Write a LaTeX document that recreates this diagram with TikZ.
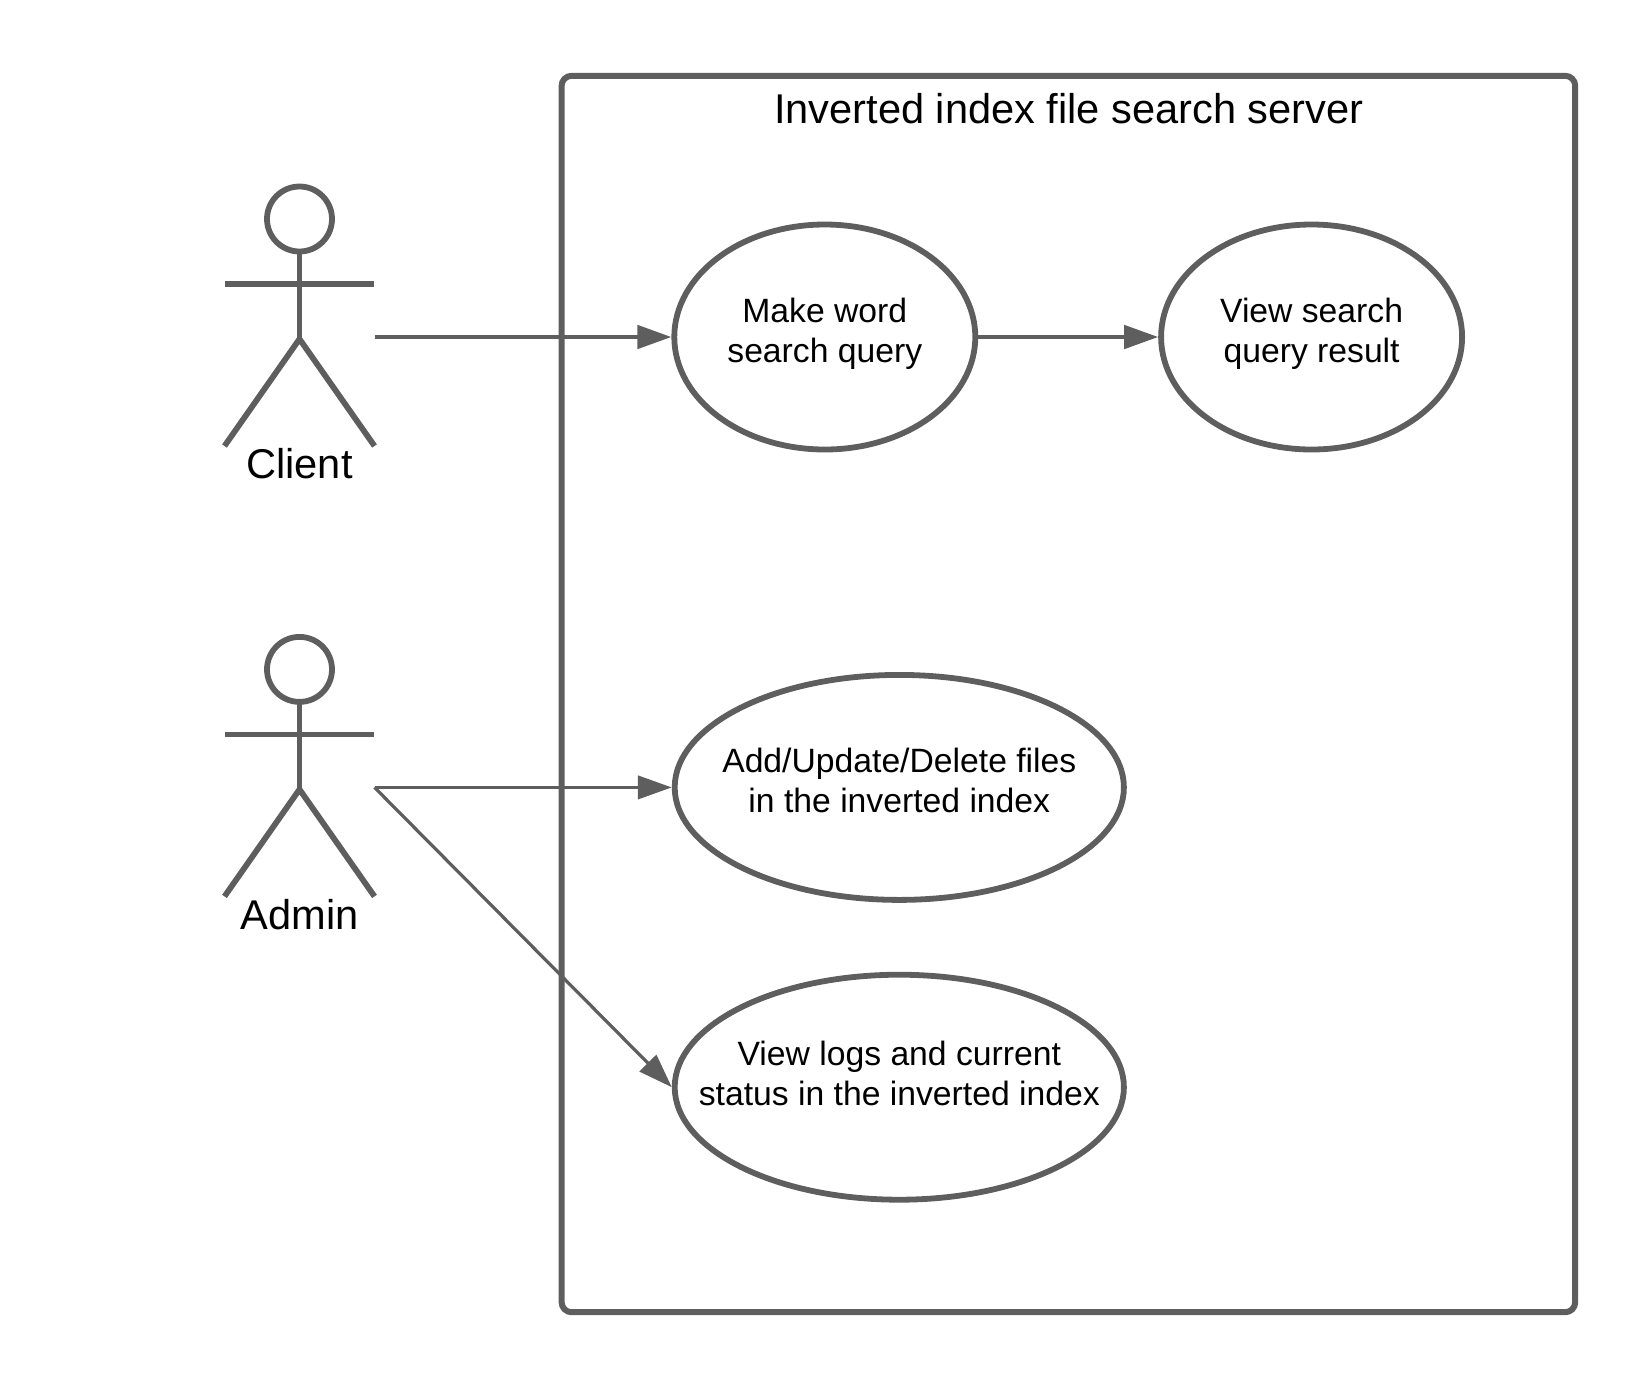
\documentclass[tikz,border=0pt]{standalone}
\usepackage{fontspec}
\setmainfont{Liberation Sans}
\usetikzlibrary{arrows.meta}
\usetikzlibrary{shapes.geometric}
\definecolor{linegray}{HTML}{5E5E5E}

\tikzset{
	usecase/.style={ellipse,draw=linegray,line width=2.9pt,align=center,
		font=\fontsize{16.85}{20}\selectfont,inner sep=-25pt,minimum height=112.5pt,
		execute at end node={\rule[-6.8pt]{0pt}{0pt}}},
	flow/.style={draw=linegray,line width=2.1pt,-{Triangle[length=17pt,width=11.6pt]}},
	actor/.pic={
		\draw[linegray,line width=2.9pt] (0,0) circle (16.25);
		\draw[linegray,line width=2.9pt] (0,-16.25) -- (0,-60) (-37.2,-32.5) -- (37.2,-32.5);
		\draw[linegray,line width=2.9pt] (-37.5,-113.5) -- (0,-60) -- (37.5,-113.5);
		\coordinate (-hand) at (37.5,-59);
		\node[font=\fontsize{20.8}{25}\selectfont] (-name) at (0,-122.5) {\tikzpictext};
	},
}

\begin{document}
\begin{tikzpicture}[x=1pt,y=1pt]
	\useasboundingbox (0,0) rectangle (825,-694);
	% server box
	\node[draw=linegray,line width=3pt,rounded corners=5pt,minimum width=506.8pt,
		minimum height=618.2pt,anchor=north west] (server) at (279.3,-36.4) {};
	\node[font=\fontsize{20.8}{25}\selectfont] (title) at (534.4,-54.2) {Inverted index file search server};

	% actors
	\pic[pic text=Client] (client) at (149.75,-109.5) {actor};
	\pic[pic text=Admin] (admin) at (149.75,-334.7) {actor};

	% use cases
	\node[usecase,minimum width=150.5pt] (query) at (412.4,-168.5) {Make word\\search query};
	\node[usecase,minimum width=150.5pt] (result) at (655.8,-168.5) {View search\\query result};
	\node[usecase,minimum width=224.6pt] (files) at (449.65,-393.7) {Add/Update/Delete files\\in the inverted index};
	\node[usecase,minimum width=224.6pt] (logs) at (449.65,-543.6) {View logs and current\\status in the inverted index\rule[-14.2pt]{0pt}{0pt}};

	\draw[flow] (client-hand) -- (query.west);
	\draw[flow] (query.east) -- (result.west);
	\draw[flow,line width=1.8pt] (admin-hand) -- (files.west);
	\draw[flow,line width=1.6pt] (admin-hand) -- (logs.west);
\end{tikzpicture}
\end{document}
